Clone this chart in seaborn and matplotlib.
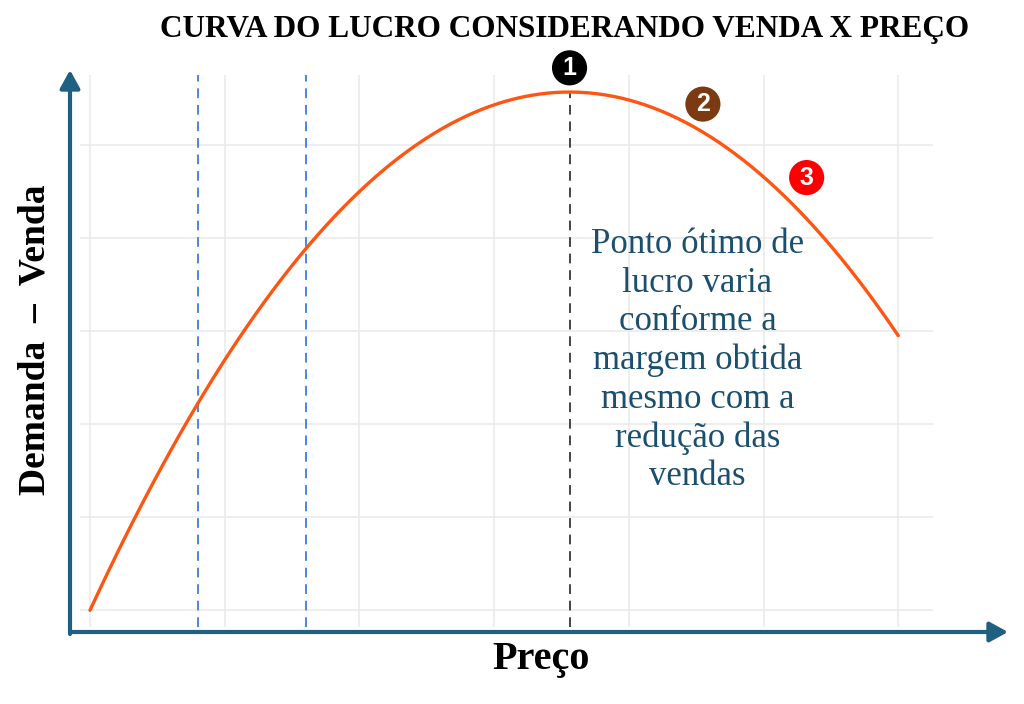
import seaborn as sns
import matplotlib.pyplot as plt
import pandas as pd

# curve values (price steps of 0.25)
preco = [0, 0.25, 0.5, 0.75, 1.0, 1.25, 1.5, 1.75, 2.0, 2.25, 2.5, 2.75, 3.0,
         3.25, 3.5, 3.75, 4.0, 4.25, 4.5, 4.75, 5.0, 5.25, 5.5, 5.75, 6.0]
venda = [0.0, 0.75, 1.45, 2.10, 2.69, 3.22, 3.70, 4.13, 4.50, 4.81, 5.08, 5.28, 5.43,
         5.53, 5.57, 5.55, 5.49, 5.36, 5.18, 4.95, 4.66, 4.31, 3.91, 3.46, 2.95]

# numbered markers
marcas = ["1", "2", "3"]
marca_x = [3.56, 4.55, 5.32]
marca_y = [5.83, 5.44, 4.65]
marca_cores = ["#000000", "#7b3a12", "#ff0000"]

# reference lines
linhas_azuis = [0.8, 1.6]
pico_x = 3.56
pico_y = 5.57

titulo = "CURVA DO LUCRO CONSIDERANDO VENDA X PREÇO"
texto = ("Ponto ótimo de\nlucro varia\nconforme a\nmargem obtida\n"
         "mesmo com a\nredução das\nvendas")

df = pd.DataFrame({"preco": preco, "venda": venda})
df_m = pd.DataFrame({"x": marca_x, "y": marca_y, "marca": marcas})

sns.set_style("white")
plt.rcParams['font.family'] = ['Liberation Serif', 'DejaVu Serif']

fig = plt.figure(figsize=(10.24, 7.04), dpi=100)
ax = fig.add_axes([80 / 1024, 77 / 704, 853 / 1024, 552 / 704])

ax.set_xlim(-0.074, 6.258)
ax.set_ylim(-0.183, 5.753)
ax.set_xticks(range(7))
ax.set_yticks(range(6))
ax.tick_params(length=0, labelbottom=False, labelleft=False)
ax.grid(True, color="#ebebeb", linewidth=1.2)
for s in ax.spines.values():
    s.set_visible(False)

for xv in linhas_azuis:
    ax.axvline(xv, color="#4a86e0", linewidth=1.4, linestyle=(0, (5, 3.5)))
ax.plot([pico_x, pico_x], [ax.get_ylim()[0], pico_y], color="#444444",
        linewidth=1.4, linestyle=(0, (5, 3.5)))

# smooth quadratic through the read values
sns.regplot(data=df, x="preco", y="venda", ax=ax, order=2, ci=None, scatter=False,
            line_kws=dict(color="#ff5512", linewidth=2.4))

sns.scatterplot(data=df_m, x="x", y="y", hue="marca", palette=marca_cores,
                s=640, edgecolor="none", legend=False, ax=ax, clip_on=False, zorder=5)
for m, xv, yv in zip(marcas, marca_x, marca_y):
    ax.text(xv, yv, m, ha="center", va="center", color="white", fontsize=18,
            fontweight="bold", family=["Liberation Sans", "DejaVu Sans"], zorder=6)

ax.text(4.51, 2.68, texto, ha="center", va="center", color="#1b4f6e",
        fontsize=25, linespacing=1.22)

ax.set_xlabel("")
ax.set_ylabel("")

# axis arrows
cor_eixo = "#1f5f82"
estilo = "-|>,head_length=1.0,head_width=0.55"
ax.annotate("", xy=(70, 634), xytext=(70, 70), xycoords="figure pixels",
            textcoords="figure pixels",
            arrowprops=dict(arrowstyle=estilo, color=cor_eixo, lw=3,
                            shrinkA=0, shrinkB=0, mutation_scale=11))
ax.annotate("", xy=(1008, 72), xytext=(72, 72), xycoords="figure pixels",
            textcoords="figure pixels",
            arrowprops=dict(arrowstyle=estilo, color=cor_eixo, lw=3,
                            shrinkA=0, shrinkB=0, mutation_scale=11))

fig.text(565 / 1024, 1 - 30 / 704, titulo, ha="center", va="center",
         fontsize=22.5, fontweight="bold", color="black")
fig.text(35 / 1024, 1 - 340 / 704, "Demanda  –  Venda", ha="center", va="center",
         rotation=90, fontsize=27, fontweight="bold", color="black")
fig.text(541 / 1024, 1 - 660 / 704, "Preço", ha="center", va="center",
         fontsize=29, fontweight="bold", color="black")

fig.savefig("out.png", dpi=100)
